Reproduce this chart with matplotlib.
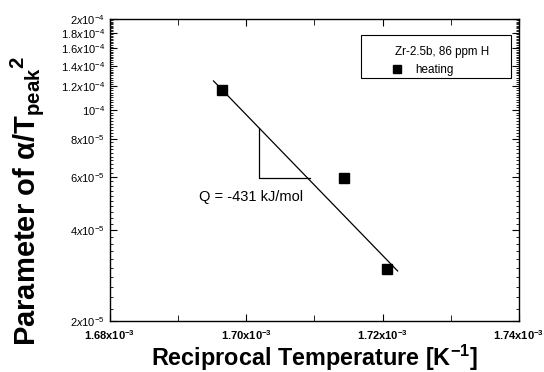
import numpy as np
import matplotlib
matplotlib.use('Agg')
import matplotlib.pyplot as plt
from matplotlib.ticker import FixedLocator, FuncFormatter
from matplotlib.patches import Rectangle

plt.rcParams['font.family'] = ['Liberation Sans', 'DejaVu Sans']
plt.rcParams['mathtext.fontset'] = 'custom'
plt.rcParams['mathtext.rm'] = 'Liberation Sans'
plt.rcParams['mathtext.it'] = 'Liberation Sans:italic'
plt.rcParams['mathtext.bf'] = 'Liberation Sans:bold'

# measured points (heating)
recip_T = [1.6964e-3, 1.7144e-3, 1.7206e-3]
param = [1.164e-4, 5.95e-5, 2.97e-5]

# fitted line end points
fit_x = [1.6952e-3, 1.7222e-3]
fit_y = [1.247e-4, 2.93e-5]

# slope triangle (vertical + horizontal legs)
tri_x = [1.7018e-3, 1.7018e-3, 1.7093e-3]
tri_y = [8.71e-5, 5.95e-5, 5.95e-5]

xticks = [1.68e-3, 1.70e-3, 1.72e-3, 1.74e-3]
yticks = [2e-5, 4e-5, 6e-5, 8e-5, 1e-4, 1.2e-4, 1.4e-4, 1.6e-4, 1.8e-4, 2e-4]

fig = plt.figure(figsize=(5.44, 3.72), dpi=100)
ax = fig.add_axes([0.202, 0.137, 0.752, 0.812])

ax.plot(fit_x, fit_y, color='black', lw=0.9)
ax.plot(tri_x, tri_y, color='black', lw=0.9)
ax.plot(recip_T, param, 's', color='black', ms=7, label='heating')

ax.set_yscale('log')
ax.set_xlim(1.68e-3, 1.74e-3)
ax.set_ylim(2e-5, 2e-4)

def xfmt(v, pos):
    return r'$\mathbf{%.2fx10^{-3}}$' % (v * 1e3)

def yfmt(v, pos):
    e = int(np.floor(np.log10(v) + 1e-9))
    m = v / 10 ** e
    if abs(m - 1) < 1e-6:
        return r'$10^{%d}$' % e
    s = ('%.1f' % m).rstrip('0').rstrip('.')
    return r'$%sx10^{%d}$' % (s, e)

ax.xaxis.set_major_locator(FixedLocator(xticks))
ax.xaxis.set_minor_locator(FixedLocator([1.69e-3, 1.71e-3, 1.73e-3]))
ax.xaxis.set_major_formatter(FuncFormatter(xfmt))
ax.yaxis.set_major_locator(FixedLocator(yticks))
ax.yaxis.set_minor_locator(FixedLocator(np.arange(2e-5, 2.0001e-4, 2e-6)))
ax.yaxis.set_major_formatter(FuncFormatter(yfmt))
ax.yaxis.set_minor_formatter(FuncFormatter(lambda v, p: ''))

ax.tick_params(which='both', direction='in', top=True, right=True, labelsize=8)
ax.tick_params(which='major', length=5, width=0.8)
ax.tick_params(which='minor', length=2.5, width=0.6)
ax.tick_params(axis='x', which='minor', length=4)
ax.tick_params(axis='x', which='major', pad=5)
for sp in ax.spines.values():
    sp.set_linewidth(1.0)

ax.set_xlabel(r'Reciprocal Temperature [K$^{\mathbf{-1}}$]', fontsize=16.8,
              fontweight='bold', labelpad=0.5)
ax.set_ylabel(r'Parameter of $\mathbf{\alpha}$/T$_{\mathbf{peak}}$$^{\mathbf{2}}$',
              fontsize=21, fontweight='bold')
ax.yaxis.set_label_coords(-0.155, 0.397)

ax.text(1.6931e-3, 5.15e-5, 'Q = -431 kJ/mol', fontsize=10.5, va='center')

# legend box
ax.add_patch(Rectangle((0.614, 0.805), 0.366, 0.142, transform=ax.transAxes,
                       facecolor='white', edgecolor='black', lw=0.8, zorder=4))
ax.text(0.697, 0.891, 'Zr-2.5b, 86 ppm H', transform=ax.transAxes, fontsize=8.4,
        va='center', ha='left', zorder=6)
leg = ax.legend(loc='center left', bbox_to_anchor=(0.689, 0.831), fontsize=8.4,
                frameon=False, borderpad=0, borderaxespad=0,
                handletextpad=1.15, handlelength=0.9, markerscale=0.85)
leg.set_zorder(5)

fig.savefig('out.png', dpi=100)
